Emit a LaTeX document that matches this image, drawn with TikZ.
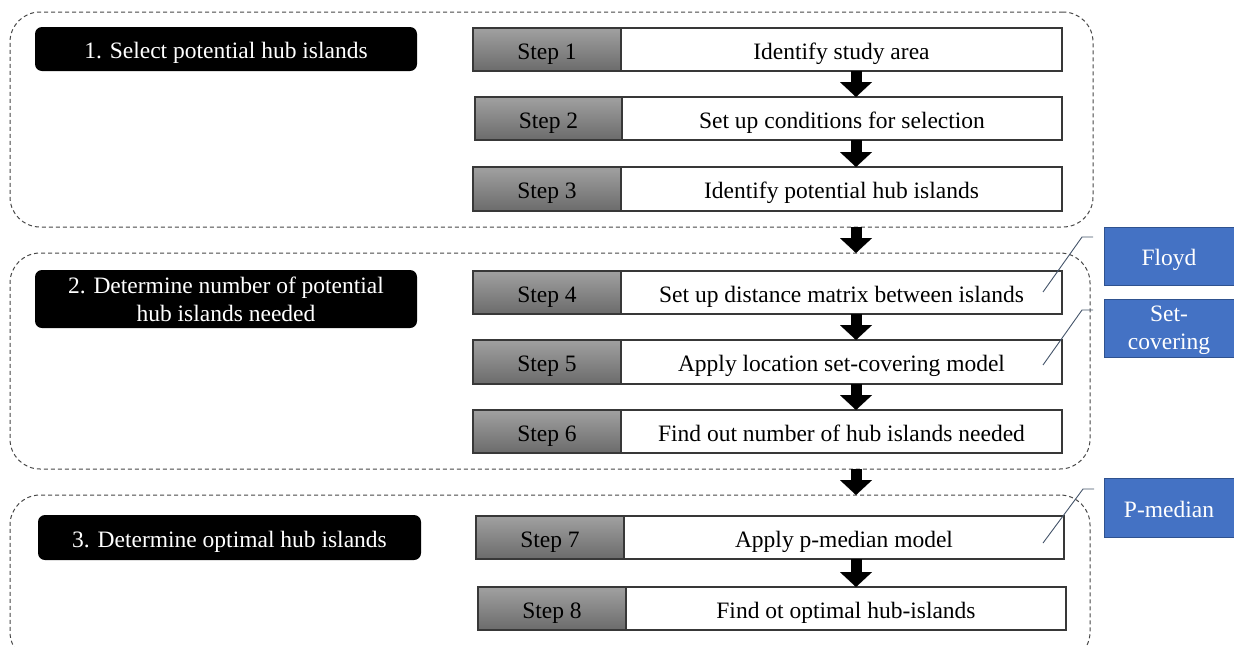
\documentclass[tikz,border=0pt]{standalone}
\usepackage{fontspec}
\setmainfont{Liberation Serif}
\usetikzlibrary{arrows.meta}
\definecolor{hubblue}{HTML}{4472C4}
\definecolor{hubblueedge}{HTML}{2F528F}
\definecolor{calloutc}{HTML}{44546A}
\newcommand\hubfont{\fontsize{23.5}{28}\selectfont}
\begin{document}
\begin{tikzpicture}[x=1pt,y=-1pt,
  lowtext/.style={text height=21pt, text depth=2pt},
  frame/.style={draw=black!72, dash pattern=on 4pt off 3pt, line width=1pt, rounded corners=30pt, inner sep=0pt, outer sep=0pt},
  titlebox/.style={fill=black, rounded corners=7pt, text=white, font=\hubfont, align=center, inner sep=0pt, outer sep=0pt},
  stepgray/.style={draw=black!78, line width=1.3pt, top color=black!37, bottom color=black!58, font=\hubfont, inner sep=0pt, outer sep=0pt, lowtext},
  stepwhite/.style={draw=black!78, line width=1.3pt, fill=white, font=\hubfont, inner sep=0pt, outer sep=0pt, lowtext},
  bluebox/.style={fill=hubblue, draw=hubblueedge, line width=1pt, text=white, font=\hubfont, align=center, inner sep=0pt, outer sep=0pt},
  bigarrow/.style={line width=11pt, -{Triangle[length=15pt,width=32pt,line width=0.1pt]}},
  callout/.style={draw=calloutc, line width=0.9pt}]
\useasboundingbox (0,0) rectangle (1234,646);
\clip (0,0) rectangle (1234,646);

% frames
\node[frame, minimum width=1083pt, minimum height=215pt] (f1) at (551.5,119.5) {};
\node[frame, minimum width=1080pt, minimum height=216pt] (f2) at (550,361) {};
\node[frame, minimum width=1080pt, minimum height=167pt] (f3) at (550,578.5) {};

% titles
\node[titlebox, lowtext, minimum width=382pt, minimum height=44pt] (t1) at (226,49) {1. Select potential hub islands};
\node[titlebox, minimum width=382pt, minimum height=58pt] (t2) at (226,299) {2. Determine number of potential\\hub islands needed};
\node[titlebox, lowtext, minimum width=383pt, minimum height=45pt] (t3) at (229.5,537.5) {3. Determine optimal hub islands};

% steps
\node[stepgray, minimum width=148pt, minimum height=43pt] (g1) at (547,49.5) {Step 1};
\node[stepwhite, minimum width=441pt, minimum height=43pt] (s1) at (841.5,49.5) {Identify study area};
\node[stepgray, minimum width=147pt, minimum height=43pt] (g2) at (548.5,118.5) {Step 2};
\node[stepwhite, minimum width=440pt, minimum height=43pt] (s2) at (842,118.5) {Set up conditions for selection};
\node[stepgray, minimum width=148pt, minimum height=44pt] (g3) at (547,189) {Step 3};
\node[stepwhite, minimum width=441pt, minimum height=44pt] (s3) at (841.5,189) {Identify potential hub islands};
\node[stepgray, minimum width=148pt, minimum height=43pt] (g4) at (547,292.5) {Step 4};
\node[stepwhite, minimum width=441pt, minimum height=43pt] (s4) at (841.5,292.5) {Set up distance matrix between islands};
\node[stepgray, minimum width=148pt, minimum height=44pt] (g5) at (547,362) {Step 5};
\node[stepwhite, minimum width=441pt, minimum height=44pt] (s5) at (841.5,362) {Apply location set-covering model};
\node[stepgray, minimum width=148pt, minimum height=43pt] (g6) at (547,431.5) {Step 6};
\node[stepwhite, minimum width=441pt, minimum height=43pt] (s6) at (841.5,431.5) {Find out number of hub islands needed};
\node[stepgray, minimum width=148pt, minimum height=43pt] (g7) at (550,537.5) {Step 7};
\node[stepwhite, minimum width=440pt, minimum height=43pt] (s7) at (844,537.5) {Apply p-median model};
\node[stepgray, minimum width=148pt, minimum height=43pt] (g8) at (552,608.5) {Step 8};
\node[stepwhite, minimum width=440pt, minimum height=43pt] (s8) at (846,608.5) {Find ot optimal hub-islands};

% blue boxes
\node[bluebox, lowtext, minimum width=130pt, minimum height=58pt] (b1) at (1169,256) {Floyd};
\node[bluebox, text depth=0pt, minimum width=130pt, minimum height=58pt] (b2) at (1169,328) {Set-\\covering};
\node[bluebox, lowtext, minimum width=130pt, minimum height=59pt] (b3) at (1169,507.5) {P-median};

% arrows
\coordinate (ax) at (856,0);
\draw[bigarrow] (s1.south -| ax) -- (s2.north -| ax);
\draw[bigarrow] (s2.south -| ax) -- (s3.north -| ax);
\draw[bigarrow] (f1.south -| ax) -- (f2.north -| ax);
\draw[bigarrow] (s4.south -| ax) -- (s5.north -| ax);
\draw[bigarrow] (s5.south -| ax) -- (s6.north -| ax);
\draw[bigarrow] (f2.south -| ax) -- (f3.north -| ax);
\draw[bigarrow] (s7.south -| ax) -- (s8.north -| ax);

% callout lines
\coordinate (c1a) at (1043,292);
\coordinate (c1b) at (1082,237);
\coordinate (c1c) at (1093,237);
\coordinate (c2a) at (1043,365);
\coordinate (c2b) at (1082,310);
\coordinate (c2c) at (1093,310);
\coordinate (c3a) at (1043,543);
\coordinate (c3b) at (1083,489);
\coordinate (c3c) at (1094,489);
\draw[callout] (c1a) -- (c1b) -- (c1c);
\draw[callout] (c2a) -- (c2b) -- (c2c);
\draw[callout] (c3a) -- (c3b) -- (c3c);
\end{tikzpicture}
\end{document}
